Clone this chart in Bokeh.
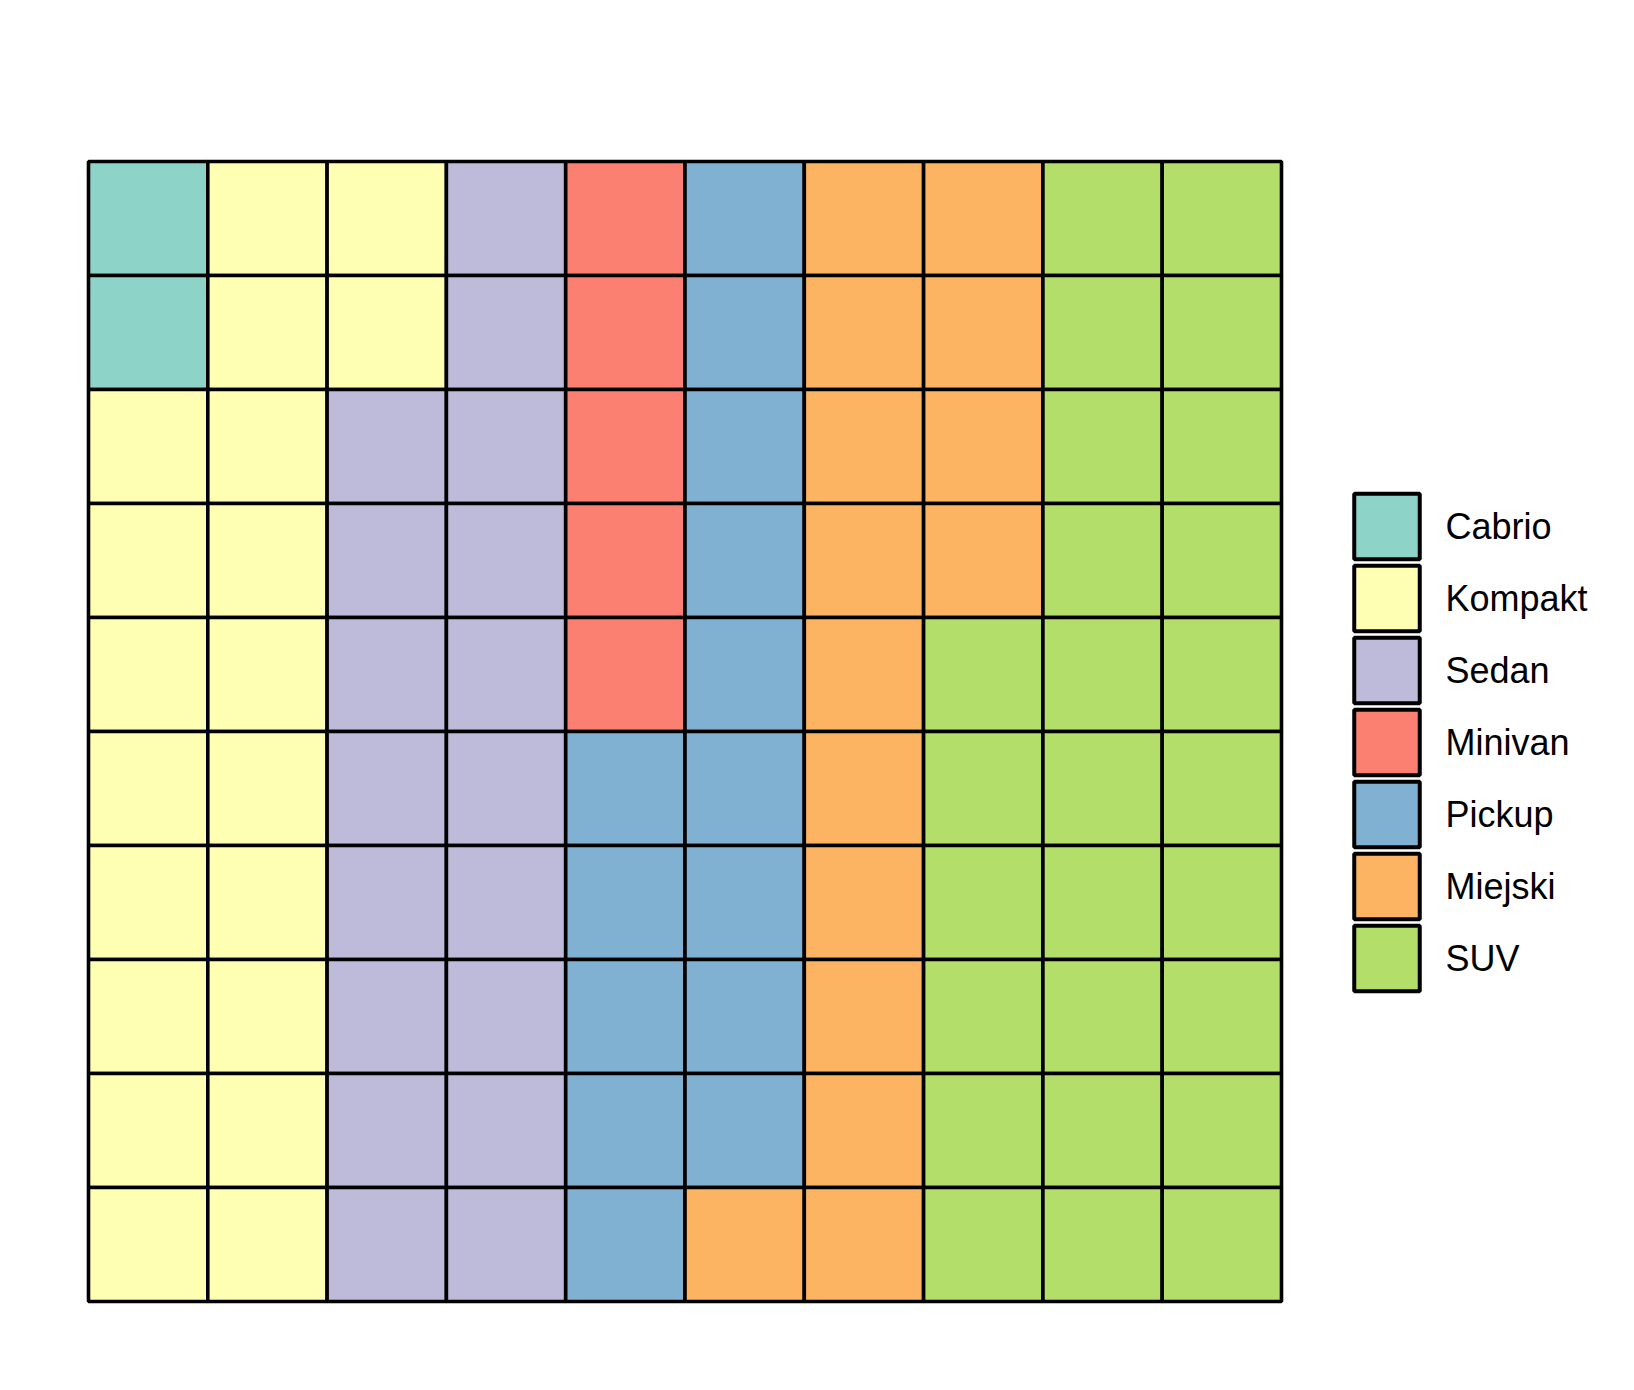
from bokeh.plotting import figure
from bokeh.models import Range1d, ColumnDataSource
from bokeh.core.properties import value
from bokeh.embed import file_html
from bokeh.resources import INLINE

categories = ["Cabrio", "Kompakt", "Sedan", "Minivan", "Pickup", "Miejski", "SUV"]
counts = [2, 20, 18, 5, 14, 15, 26]
colors = ["#8dd3c7", "#ffffb3", "#bebada", "#fb8072", "#80b1d3", "#fdb462", "#b3de69"]

n_cols, n_rows = 10, 10

# layout (pixels)
W, H = 1634, 1390
grid_left, grid_top, grid_right, grid_bottom = 88, 161, 1281, 1301
cw = (grid_right - grid_left) / n_cols
ch = (grid_bottom - grid_top) / n_rows

# expand counts into cells, column-major, filling each column top to bottom
xs, ys, fills = [], [], []
k = 0
for cat, cnt, col in zip(categories, counts, colors):
    for _ in range(cnt):
        c = k // n_rows
        r = k % n_rows
        xs.append(c + 0.5)
        ys.append(n_rows - r - 0.5)
        fills.append(col)
        k += 1

p = figure(width=W, height=H, output_backend="svg", toolbar_location=None,
           x_axis_location=None, y_axis_location=None, min_border=0,
           x_range=Range1d(-grid_left / cw, (W - grid_left) / cw),
           y_range=Range1d(-(H - grid_bottom) / ch, grid_bottom / ch))
p.grid.visible = False
p.outline_line_color = None
p.background_fill_color = "white"
p.border_fill_color = "white"

src = ColumnDataSource(dict(x=xs, y=ys, fill=fills))
p.rect(x="x", y="y", width=1, height=1, source=src, fill_color="fill",
       line_color="black", line_width=3.6)

# legend
box_cx_px, text_x_px = 1386.5, 1445
first_cy_px, pitch_px = 526, 72
lx = [(box_cx_px - grid_left) / cw] * len(categories)
ly = [(grid_bottom - (first_cy_px + i * pitch_px)) / ch for i in range(len(categories))]
tx = [(text_x_px - grid_left) / cw] * len(categories)
lsrc = ColumnDataSource(dict(x=lx, y=ly, tx=tx, fill=colors, label=categories))
p.rect(x="x", y="y", width=65.5, height=65.5, width_units="screen", height_units="screen",
       source=lsrc, fill_color="fill", line_color="black", line_width=4)
p.text(x="tx", y="y", text="label", source=lsrc, text_font=value("Liberation Sans"),
       text_font_size="36px", text_baseline="middle", text_align="left", text_color="black")

open("out.html", "w").write(file_html(p, INLINE))
